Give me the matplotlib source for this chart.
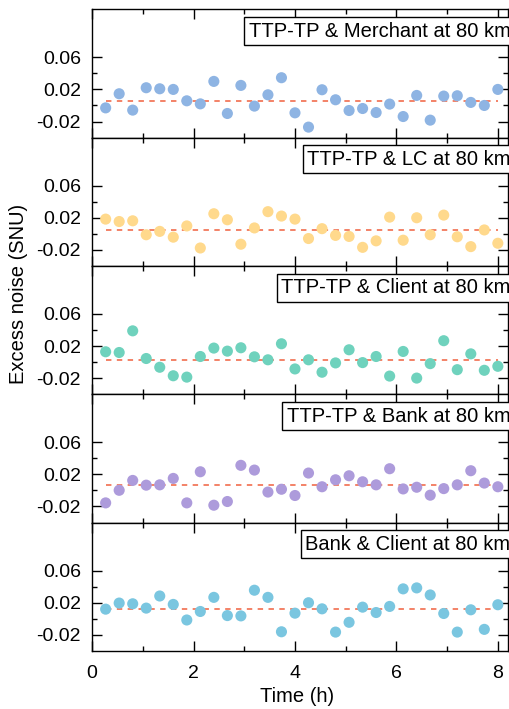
import numpy as np
import matplotlib
matplotlib.use("Agg")
import matplotlib.pyplot as plt
from matplotlib.ticker import FixedLocator

plt.rcParams['font.family'] = ['Liberation Sans', 'DejaVu Sans']

# measurement times (h), 30 blocks over 8 hours
time_h = [(k + 1) * 8 / 30 for k in range(30)]

labels = ["TTP-TP & Merchant at 80 km",
          "TTP-TP & LC at 80 km",
          "TTP-TP & Client at 80 km",
          "TTP-TP & Bank at 80 km",
          "Bank & Client at 80 km"]

merchant = [-0.003, 0.0146, -0.0058, 0.0221, 0.0208, 0.020, 0.0058, 0.002, 0.030, -0.010,
            0.025, -0.0008, 0.0133, 0.0346, -0.0092, -0.027, 0.0196, 0.0071, -0.0063, -0.0038,
            -0.0088, 0.0017, -0.0138, 0.0125, -0.0183, 0.0117, 0.0121, 0.0038, 0.0, 0.020]
lc = [0.0183, 0.0153, 0.0162, -0.0012, 0.003, -0.0042, 0.0098, -0.0177, 0.025, 0.0175,
      -0.013, 0.0073, 0.0276, 0.0221, 0.0183, -0.0059, 0.0064, -0.002, -0.0033, -0.0169,
      -0.0088, 0.0208, -0.008, 0.020, -0.0012, 0.0233, -0.0037, -0.016, 0.0048, -0.0118]
client = [0.0129, 0.012, 0.039, 0.0045, -0.0064, -0.017, -0.0187, 0.007, 0.0175, 0.0137,
          0.0179, 0.0066, 0.0029, 0.0229, -0.0085, 0.0029, -0.0126, -0.001, 0.0154, -0.0006,
          0.007, -0.0174, 0.0133, -0.0199, -0.0019, 0.0267, -0.0094, 0.0103, -0.0102, -0.0052]
bank = [-0.0155, 0.0002, 0.0125, 0.0066, 0.007, 0.015, -0.0155, 0.0233, -0.0184, -0.0138,
        0.0313, 0.0254, -0.002, 0.0015, -0.0063, 0.0217, 0.0046, 0.0133, 0.0183, 0.0108,
        0.007, 0.0271, 0.0019, 0.004, -0.0059, 0.0023, 0.007, 0.0246, 0.0092, 0.0046]
bank_client = [0.012, 0.0196, 0.0187, 0.0133, 0.0284, 0.0179, -0.0015, 0.0091, 0.0267, 0.004,
               0.0036, 0.0356, 0.0267, -0.0162, 0.007, 0.020, 0.0124, -0.0166, -0.0044, 0.0145,
               0.0078, 0.0154, 0.0373, 0.0385, 0.0297, 0.0066, -0.0166, 0.0112, -0.0132, 0.0175]
series = [merchant, lc, client, bank, bank_client]

# average excess noise of each link
mean_noise = [0.0058, 0.0043, 0.0032, 0.0062, 0.0124]

colors = ['#8EB4E3', '#FFD98C', '#6FD2BD', '#AD9BDB', '#7AC6E0']
line_color = '#F2785C'

fig = plt.figure(figsize=(5.09, 7.09), dpi=100)
gs = fig.add_gridspec(5, 1, left=0.181, right=0.998, top=0.987, bottom=0.082, hspace=0)

axes = []
for i in range(5):
    ax = fig.add_subplot(gs[i], sharex=axes[0] if axes else None)
    axes.append(ax)
    ax.scatter(time_h, series[i], s=64, color=colors[i], edgecolors='none', zorder=3)
    ax.plot([time_h[0], time_h[-1]], [mean_noise[i]] * 2, color=line_color,
            lw=1.3, linestyle=(0, (3, 3)), zorder=2)
    ax.set_ylim(-0.04, 0.12)
    ax.yaxis.set_major_locator(FixedLocator([-0.02, 0.02, 0.06]))
    ax.yaxis.set_minor_locator(FixedLocator([0.0, 0.04]))
    ax.set_yticklabels(['-0.02', '0.02', '0.06'])
    ax.tick_params(which='both', direction='in', top=True, right=True, labelsize=14,
                   width=1.0)
    ax.tick_params(which='major', length=7)
    ax.tick_params(which='minor', length=3.5)
    ax.tick_params(axis='y', pad=8)
    ax.tick_params(axis='x', pad=10)
    for sp in ax.spines.values():
        sp.set_linewidth(1.0)
    ax.text(1.006, 0.83, labels[i], transform=ax.transAxes, ha='right', va='center',
            fontsize=14.5, clip_on=False,
            bbox=dict(boxstyle='square,pad=0.22', fc='white', ec='black', lw=1.0))
    if i < 4:
        ax.tick_params(axis='x', labelbottom=False)

axes[-1].set_xlim(0, 8.2)
axes[-1].xaxis.set_major_locator(FixedLocator([0, 2, 4, 6, 8]))
axes[-1].xaxis.set_minor_locator(FixedLocator([1, 3, 5, 7]))

fig.text(19 / 509, 1 - 294 / 709, 'Excess noise (SNU)', rotation=90, ha='center',
         va='center', fontsize=14.5)
fig.text(297 / 509, 1 - 696 / 709, 'Time (h)', ha='center', va='center', fontsize=14.5)

fig.savefig('out.png', dpi=100)
